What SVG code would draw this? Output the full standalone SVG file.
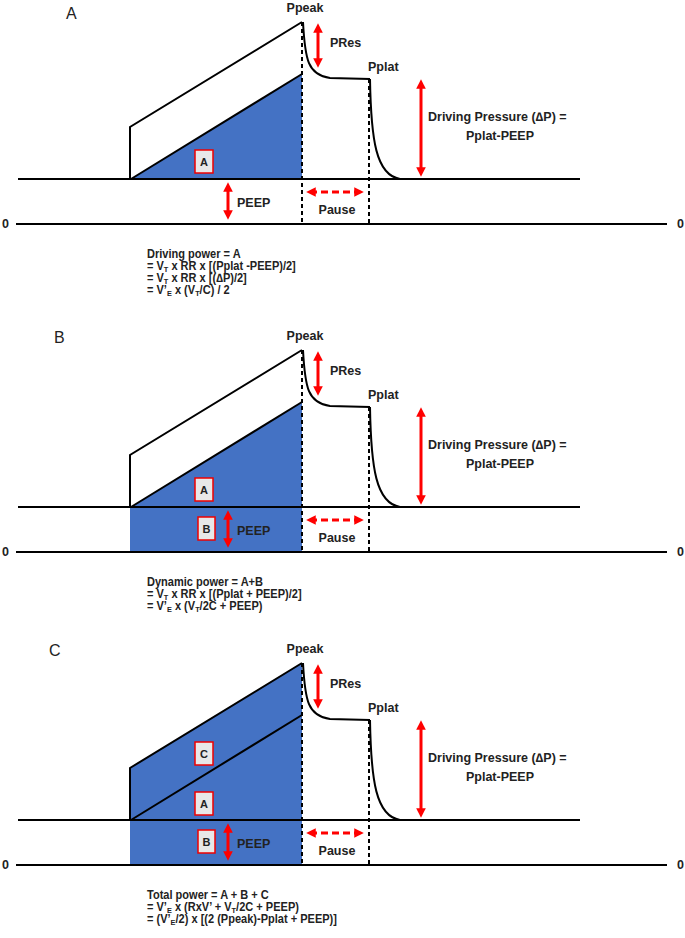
<svg xmlns="http://www.w3.org/2000/svg" width="685" height="938" viewBox="0 0 685 938">
<style>
.ln{stroke:#000;stroke-width:2;fill:none}
.dash{stroke:#000;stroke-width:2;fill:none;stroke-dasharray:4,3}
.blue{fill:#4472C4}
.ra{stroke:#f00;stroke-width:3;fill:none;marker-start:url(#ah);marker-end:url(#ah)}
.rd{stroke:#f00;stroke-width:3;fill:none;stroke-dasharray:7,4;marker-start:url(#ah);marker-end:url(#ah)}
.lbl{font-family:"Liberation Sans",Arial,sans-serif;font-weight:bold;font-size:12.5px;fill:#222}
.big{font-family:"Liberation Sans",Arial,sans-serif;font-size:16px;fill:#222}
.f{font-family:"Liberation Sans",Arial,sans-serif;font-weight:bold;font-size:12px;fill:#222}
.s{font-size:8px}
.box{fill:#e8e8e8;stroke:#e00;stroke-width:1.5}
.bt{font-family:"Liberation Sans",Arial,sans-serif;font-weight:bold;font-size:11px;fill:#222;text-anchor:middle}
</style>
<defs>
<marker id="ah" viewBox="0 0 10 10" refX="6" refY="5" markerWidth="3.2" markerHeight="3.2" orient="auto-start-reverse" markerUnits="strokeWidth">
<path d="M0,0 L10,5 L0,10 z" fill="#f00"/>
</marker>
<g id="common">
<line class="ln" x1="18" y1="179" x2="580" y2="179"/>
<line class="ln" x1="16" y1="224" x2="667" y2="224"/>
<path class="ln" d="M303,22 C305,60 308,75 330,78 L370,79"/>
<path class="ln" d="M370,79 C371,140 376,175 400,179"/>
<line class="dash" x1="302" y1="22" x2="302" y2="224"/>
<line class="dash" x1="369" y1="79" x2="369" y2="224"/>
<line class="ra" x1="318" y1="27" x2="318" y2="64"/>
<line class="ra" x1="421" y1="83" x2="421" y2="173"/>
<line class="ra" x1="228" y1="186" x2="228" y2="216"/>
<line class="rd" x1="310" y1="192" x2="360" y2="192"/>
<text class="lbl" x="305" y="12" text-anchor="middle">Ppeak</text>
<text class="lbl" x="330" y="47">PRes</text>
<text class="lbl" x="368" y="71">Pplat</text>
<text class="lbl" x="428" y="121">Driving Pressure (∆P) =</text>
<text class="lbl" x="500" y="140" text-anchor="middle">Pplat-PEEP</text>
<text class="lbl" x="237" y="207">PEEP</text>
<text class="lbl" x="337" y="214" text-anchor="middle">Pause</text>
<text class="lbl" x="2" y="228">0</text>
<text class="lbl" x="677" y="228">0</text>
</g>
</defs>

<g id="panelA">
<text class="big" x="66" y="19">A</text>
<g id="areaA">
<polygon class="blue" points="131,179 302,74 302,179"/>
<line class="ln" x1="131" y1="179" x2="302" y2="74"/>
<polyline class="ln" points="130,179 130,127 302,22"/>
</g>
<use href="#common"/>
<g id="boxA1"><rect class="box" x="195" y="150" width="18" height="23"/><text class="bt" x="204" y="166">A</text></g>
<g id="formulaA" transform="translate(147,0) scale(0.92,1)">
<text class="f" x="0" y="258">Driving power = A</text>
<text class="f" x="0" y="270">= V<tspan class="s" dy="2">T</tspan><tspan dy="-2"> x RR x [(Pplat -PEEP)/2]</tspan></text>
<text class="f" x="0" y="282">= V<tspan class="s" dy="2">T</tspan><tspan dy="-2"> x RR x [(∆P)/2]</tspan></text>
<text class="f" x="0" y="294">= V’<tspan class="s" dy="2">E</tspan><tspan dy="-2"> x (V</tspan><tspan class="s" dy="2">T</tspan><tspan dy="-2">/C) / 2</tspan></text>
</g>
</g>

<g id="panelB" transform="translate(0,328)">
<text class="big" x="54" y="15">B</text>
<g id="areaB">
<rect class="blue" x="130" y="179" width="172" height="45"/>
<polygon class="blue" points="131,179 302,74 302,179"/>
<line class="ln" x1="131" y1="179" x2="302" y2="74"/>
<polyline class="ln" points="130,179 130,127 302,22"/>
</g>
<use href="#common"/>
<g id="boxA2"><rect class="box" x="195" y="150" width="18" height="23"/><text class="bt" x="204" y="166">A</text></g>
<g id="boxB2"><rect class="box" x="198" y="189" width="17" height="23"/><text class="bt" x="206.5" y="205">B</text></g>
<g id="formulaB" transform="translate(147,0) scale(0.92,1)">
<text class="f" x="0" y="258">Dynamic power = A+B</text>
<text class="f" x="0" y="270">= V<tspan class="s" dy="2">T</tspan><tspan dy="-2"> x RR x [(Pplat + PEEP)/2]</tspan></text>
<text class="f" x="0" y="282">= V’<tspan class="s" dy="2">E</tspan><tspan dy="-2"> x (V</tspan><tspan class="s" dy="2">T</tspan><tspan dy="-2">/2C + PEEP)</tspan></text>
</g>
</g>

<g id="panelC" transform="translate(0,641)">
<text class="big" x="49" y="15">C</text>
<g id="areaC">
<rect class="blue" x="130" y="179" width="172" height="45"/>
<polygon class="blue" points="130,179 130,127 302,22 302,179"/>
<line class="ln" x1="131" y1="179" x2="302" y2="74"/>
<polyline class="ln" points="130,179 130,127 302,22"/>
</g>
<use href="#common"/>
<g id="boxC3"><rect class="box" x="195" y="101" width="18" height="23"/><text class="bt" x="204" y="117">C</text></g>
<g id="boxA3"><rect class="box" x="195" y="151" width="18" height="23"/><text class="bt" x="204" y="167">A</text></g>
<g id="boxB3"><rect class="box" x="198" y="189" width="17" height="23"/><text class="bt" x="206.5" y="205">B</text></g>
<g id="formulaC" transform="translate(147,0) scale(0.92,1)">
<text class="f" x="0" y="258">Total power = A + B + C</text>
<text class="f" x="0" y="270">= V’<tspan class="s" dy="2">E</tspan><tspan dy="-2"> x (RxV’ + V</tspan><tspan class="s" dy="2">T</tspan><tspan dy="-2">/2C + PEEP)</tspan></text>
<text class="f" x="0" y="282">= (V’<tspan class="s" dy="2">E</tspan><tspan dy="-2">/2) x [(2 (Ppeak)-Pplat + PEEP)]</tspan></text>
</g>
</g>
</svg>
